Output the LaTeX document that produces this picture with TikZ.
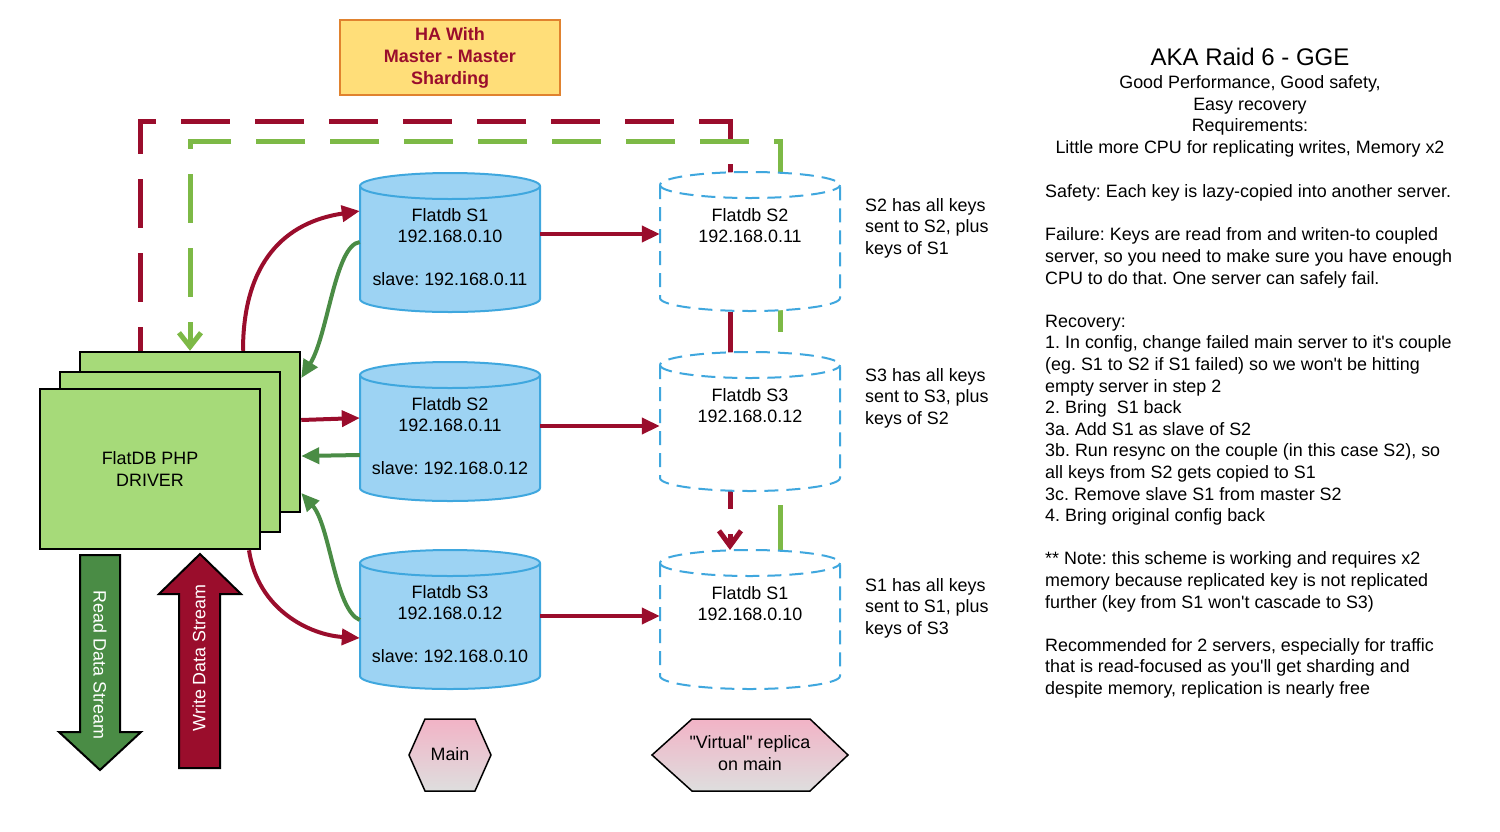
\documentclass[tikz,border=0pt]{standalone}
\usepackage{fontspec}
\setmainfont{Liberation Sans}
\usetikzlibrary{arrows.meta,shapes.geometric}
\definecolor{dred}{HTML}{9A0D2C}
\definecolor{lgreen}{HTML}{7DB946}
\definecolor{dgreen}{HTML}{4A8C45}
\definecolor{cylfill}{HTML}{9DD3F3}
\definecolor{cylline}{HTML}{3FA7DE}
\definecolor{drvfill}{HTML}{A6DA79}
\definecolor{titlefill}{HTML}{FFDE79}
\definecolor{titleline}{HTML}{E0822F}
\definecolor{hexpink}{HTML}{F2B3C6}
\definecolor{hexgray}{HTML}{DEDEDE}
\frenchspacing
\begin{document}
\begin{tikzpicture}[x=1pt,y=1pt,
  txt/.style={font=\fontsize{17.9}{21.6}\selectfont, inner sep=0pt, align=center},
  lefttxt/.style={font=\fontsize{17.9}{21.6}\selectfont, inner sep=0pt, align=left},
  redconn/.style={draw=dred, line width=4pt, -{Triangle[length=18pt,width=16pt]}},
  greenconn/.style={draw=dgreen, line width=4pt, -{Triangle[length=18pt,width=16pt]}},
  reddash/.style={draw=dred, line width=5pt, dash pattern=on 49pt off 25pt, dash phase=25pt, -{Straight Barb[length=15pt,width=22pt]}},
  greendash/.style={draw=lgreen, line width=5pt, dash pattern=on 49pt off 25pt, dash phase=4pt, -{Straight Barb[length=14pt,width=22pt]}},
  drvbox/.style={draw=black, line width=2.5pt, fill=drvfill, minimum width=220pt, minimum height=160pt, inner sep=0pt},
  cylbox/.style={minimum width=180pt, minimum height=139pt, inner sep=0pt},
  maincyl/.style={fill=cylfill, draw=cylline, line width=2pt},
  virtcyl/.style={fill=white, draw=cylline, line width=2pt, dash pattern=on 14pt off 8pt},
  hexshape/.style={draw=black, line width=1.5pt, top color=hexpink, bottom color=hexgray},
  bigarrow/.style={draw=black, line width=2pt, line join=miter},
  cyl/.pic={
    \path[pic actions] (-90,-13) -- (-90,-126) arc[start angle=180,end angle=360,x radius=90,y radius=13]
      -- (90,-13) arc[start angle=0,end angle=180,x radius=90,y radius=13] -- cycle;
    \path[pic actions, fill=none] (-90,-13) arc[start angle=180,end angle=360,x radius=90,y radius=13];
  }
]
\useasboundingbox (0,0) rectangle (1500,-831);

% title
\node[draw=titleline, fill=titlefill, line width=2pt, minimum width=220pt, minimum height=75pt,
  inner sep=0pt, align=center, text=dred, font=\fontsize{18}{22}\selectfont\bfseries]
  (title) at (450,-57.5) {HA With\\Master - Master\\Sharding};

% driver
\node[drvbox] (D3) at (190,-432) {};
\node[drvbox] (D2) at (170,-452) {};
\node[drvbox, txt] (D1) at (150,-469) {FlatDB PHP\\DRIVER};

% dashed replication paths (behind virtual cylinders)
\coordinate (rA) at (140,-121);
\coordinate (rB) at (730,-121);
\coordinate (rEnd) at (730,-550);
\draw[reddash] (D3.north -| 140,0) -- (rA) -- (rB) -- (rEnd);
\coordinate (gStart) at (780,-550);
\coordinate (gA) at (780,-141);
\coordinate (gB) at (190,-141);
\draw[greendash] (gStart) -- (gA) -- (gB) -- (D3.north -| 190,0);

% main cylinders
\pic[maincyl] at (450,-173) {cyl};
\pic[maincyl] at (450,-362) {cyl};
\pic[maincyl] at (450,-550) {cyl};
\node[cylbox] (M1) at (450,-242.5) {};
\node[cylbox] (M2) at (450,-431.5) {};
\node[cylbox] (M3) at (450,-619.5) {};
\node[txt] at (450,-247) {Flatdb S1\\192.168.0.10\\[21.6pt]slave: 192.168.0.11};
\node[txt] at (450,-436) {Flatdb S2\\192.168.0.11\\[21.6pt]slave: 192.168.0.12};
\node[txt] at (450,-624) {Flatdb S3\\192.168.0.12\\[21.6pt]slave: 192.168.0.10};

% virtual cylinders
\pic[virtcyl] at (750,-172) {cyl};
\pic[virtcyl] at (750,-352) {cyl};
\pic[virtcyl] at (750,-550) {cyl};
\node[cylbox] (V2) at (750,-242) {};
\node[cylbox] (V3) at (750,-422) {};
\node[cylbox] (V1) at (750,-620) {};
\node[txt] at (750,-225.5) {Flatdb S2\\192.168.0.11};
\node[txt] at (750,-405.5) {Flatdb S3\\192.168.0.12};
\node[txt] at (750,-603.5) {Flatdb S1\\192.168.0.10};

% main -> virtual
\draw[redconn] (M1.east |- 0,-234) -- (V2.west |- 0,-234);
\draw[redconn] (M2.east |- 0,-426) -- (V3.west |- 0,-426);
\draw[redconn] (M3.east |- 0,-616) -- (V1.west |- 0,-616);

% driver <-> main
\draw[redconn] (D3.north -| 243,0) .. controls (243,-262) and (285,-222) .. (M1.west |- 0,-211);
\draw[greenconn] (M1.west |- 0,-242) .. controls (335,-245) and (328,-335) .. (D3.east |- 0,-378);
\draw[redconn] (D3.east |- 0,-420) -- (M2.west |- 0,-418);
\draw[greenconn] (M2.west |- 0,-455) -- (D3.east |- 0,-456);
\draw[greenconn] (M3.west |- 0,-620) .. controls (335,-610) and (330,-525) .. (D3.east |- 0,-493);
\draw[redconn] (D1.south -| 249,0) .. controls (258,-610) and (310,-635) .. (M3.west |- 0,-638);

% side notes
\node[lefttxt, anchor=west] (n2) at (865,-228) {S2 has all keys\\sent to S2, plus\\keys of S1};
\node[lefttxt, anchor=west] (n3) at (865,-398) {S3 has all keys\\sent to S3, plus\\keys of S2};
\node[lefttxt, anchor=west] (n1) at (865,-608) {S1 has all keys\\sent to S1, plus\\keys of S3};

% data stream arrows
\filldraw[bigarrow, fill=dgreen] (80,-555) -- (120,-555) -- (120,-732) -- (141,-732) -- (100,-770)
  -- (59,-732) -- (80,-732) -- cycle;
\node[txt, rotate=-90, text=white] (rd) at (100,-665) {Read Data Stream};
\filldraw[bigarrow, fill=dred] (179,-768) -- (220,-768) -- (220,-594) -- (241,-594) -- (200,-554)
  -- (159,-594) -- (179,-594) -- cycle;
\node[txt, rotate=90, text=white] (wr) at (199,-658) {Write Data Stream};

% legend hexagons
\path[hexshape] (409,-755) -- (425,-719) -- (475,-719) -- (491,-755) -- (475,-791) -- (425,-791) -- cycle;
\node[txt] (lgMain) at (450,-754) {Main};
\path[hexshape] (652,-755) -- (692,-719) -- (810,-719) -- (848,-755) -- (810,-791) -- (692,-791) -- cycle;
\node[txt] (lgVirt) at (750,-753) {\textquotedbl Virtual\textquotedbl\ replica\\on main};

% right text
\node[inner sep=0pt, font=\fontsize{24}{28}\selectfont] (hd) at (1250,-57) {AKA Raid 6 - GGE};
\node[txt] (sub) at (1250,-116.5) {Good Performance, Good safety,\\Easy recovery\\Requirements:\\Little more CPU for replicating writes, Memory x2};
\node[lefttxt, anchor=north west] (body) at (1045,-184.5) {Safety: Each key is lazy-copied into another server.\\[21.6pt]
Failure: Keys are read from and writen-to coupled\\
server, so you need to make sure you have enough\\
CPU to do that. One server can safely fail.\\[21.6pt]
Recovery:\\
1. In config, change failed main server to it\textquotesingle s couple\\
(eg. S1 to S2 if S1 failed) so we won\textquotesingle t be hitting\\
empty server in step 2\\
2. Bring\ \ S1 back\\
3a. Add S1 as slave of S2\\
3b. Run resync on the couple (in this case S2), so\\
all keys from S2 gets copied to S1\\
3c. Remove slave S1 from master S2\\
4. Bring original config back\\[21.6pt]
** Note: this scheme is working and requires x2\\
memory because replicated key is not replicated\\
further (key from S1 won\textquotesingle t cascade to S3)\\[21.6pt]
Recommended for 2 servers, especially for traffic\\
that is read-focused as you\textquotesingle ll get sharding and\\
despite memory, replication is nearly free};
\end{tikzpicture}
\end{document}
